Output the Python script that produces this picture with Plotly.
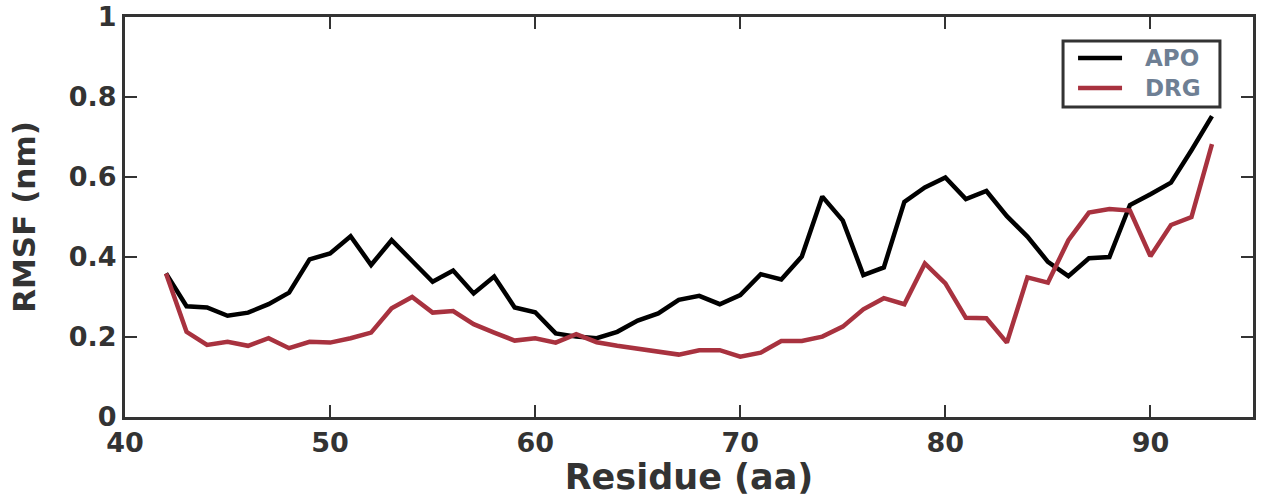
import plotly.graph_objects as go

# Residue numbers and per-residue RMSF (nm)
residues = list(range(42, 94))

apo_rmsf = [
    0.359, 0.277, 0.274, 0.253, 0.261, 0.282, 0.311, 0.394, 0.409, 0.452,
    0.380, 0.442, 0.390, 0.338, 0.366, 0.309, 0.351, 0.274, 0.262, 0.209,
    0.201, 0.197, 0.213, 0.241, 0.259, 0.293, 0.303, 0.282, 0.305, 0.357,
    0.344, 0.401, 0.551, 0.491, 0.355, 0.374, 0.538, 0.574, 0.599, 0.545,
    0.565, 0.502, 0.451, 0.388, 0.352, 0.397, 0.400, 0.530, 0.557, 0.586,
    0.667, 0.752,
]

drg_rmsf = [
    0.359, 0.213, 0.180, 0.188, 0.178, 0.197, 0.172, 0.188, 0.186, 0.197,
    0.211, 0.272, 0.300, 0.261, 0.265, 0.232, 0.211, 0.191, 0.197, 0.186,
    0.207, 0.187, 0.178, 0.170, 0.163, 0.156, 0.167, 0.167, 0.151, 0.161,
    0.190, 0.190, 0.201, 0.226, 0.269, 0.297, 0.282, 0.384, 0.334, 0.248,
    0.247, 0.186, 0.349, 0.336, 0.442, 0.511, 0.520, 0.516, 0.402, 0.480,
    0.500, 0.682,
]

series_names = ["APO", "DRG"]
series_colors = ["#000000", "#a8323f"]

x_ticks = [40, 50, 60, 70, 80, 90]
y_ticks = [0, 0.2, 0.4, 0.6, 0.8, 1]

AXIS = "#333333"
FONT = "DejaVu Sans"
LEGEND_TEXT = "#6e7f94"

fig = go.Figure()
for name, color, values in zip(series_names, series_colors, [apo_rmsf, drg_rmsf]):
    fig.add_trace(go.Scatter(x=residues, y=values, mode="lines", name=name,
                             line=dict(color=color, width=4.5), showlegend=False))

axis_common = dict(
    showline=True, linecolor=AXIS, linewidth=3, mirror="ticks",
    ticks="inside", ticklen=12, tickwidth=2, tickcolor=AXIS,
    showgrid=False, zeroline=False, automargin=False,
    tickfont=dict(family=FONT, size=27, color=AXIS, weight="bold"),
)

fig.update_xaxes(
    range=[40, 95], tickvals=x_ticks,
    title=dict(text="Residue (aa)", standoff=0,
               font=dict(family=FONT, size=35, color=AXIS, weight="bold")),
    **axis_common,
)
fig.update_yaxes(
    range=[0, 1], tickvals=y_ticks,
    title=dict(text="RMSF (nm)", standoff=24,
               font=dict(family=FONT, size=31, color=AXIS, weight="bold")),
    **axis_common,
)

# Boxed key in the upper-right corner (paper coordinates)
box_x0, box_x1, box_y0, box_y1 = 0.8316, 0.9707, 0.775, 0.94
key_rows = [0.8975, 0.8225]
shapes = [dict(type="rect", xref="paper", yref="paper",
               x0=box_x0, x1=box_x1, y0=box_y0, y1=box_y1,
               line=dict(color=AXIS, width=3), fillcolor="white", layer="above")]
annotations = []
for name, color, yk in zip(series_names, series_colors, key_rows):
    shapes.append(dict(type="line", xref="paper", yref="paper",
                       x0=0.8449, x1=0.8839, y0=yk, y1=yk,
                       line=dict(color=color, width=4.5), layer="above"))
    annotations.append(dict(xref="paper", yref="paper", x=0.9025, y=yk,
                            xanchor="left", yanchor="middle", showarrow=False,
                            text=name,
                            font=dict(family=FONT, size=23, color=LEGEND_TEXT,
                                      weight="bold")))

fig.update_layout(
    width=1262, height=497,
    margin=dict(l=125, r=9, t=17, b=80),
    paper_bgcolor="white", plot_bgcolor="white",
    showlegend=False,
    shapes=shapes, annotations=annotations,
)

fig.write_html("out.html")
